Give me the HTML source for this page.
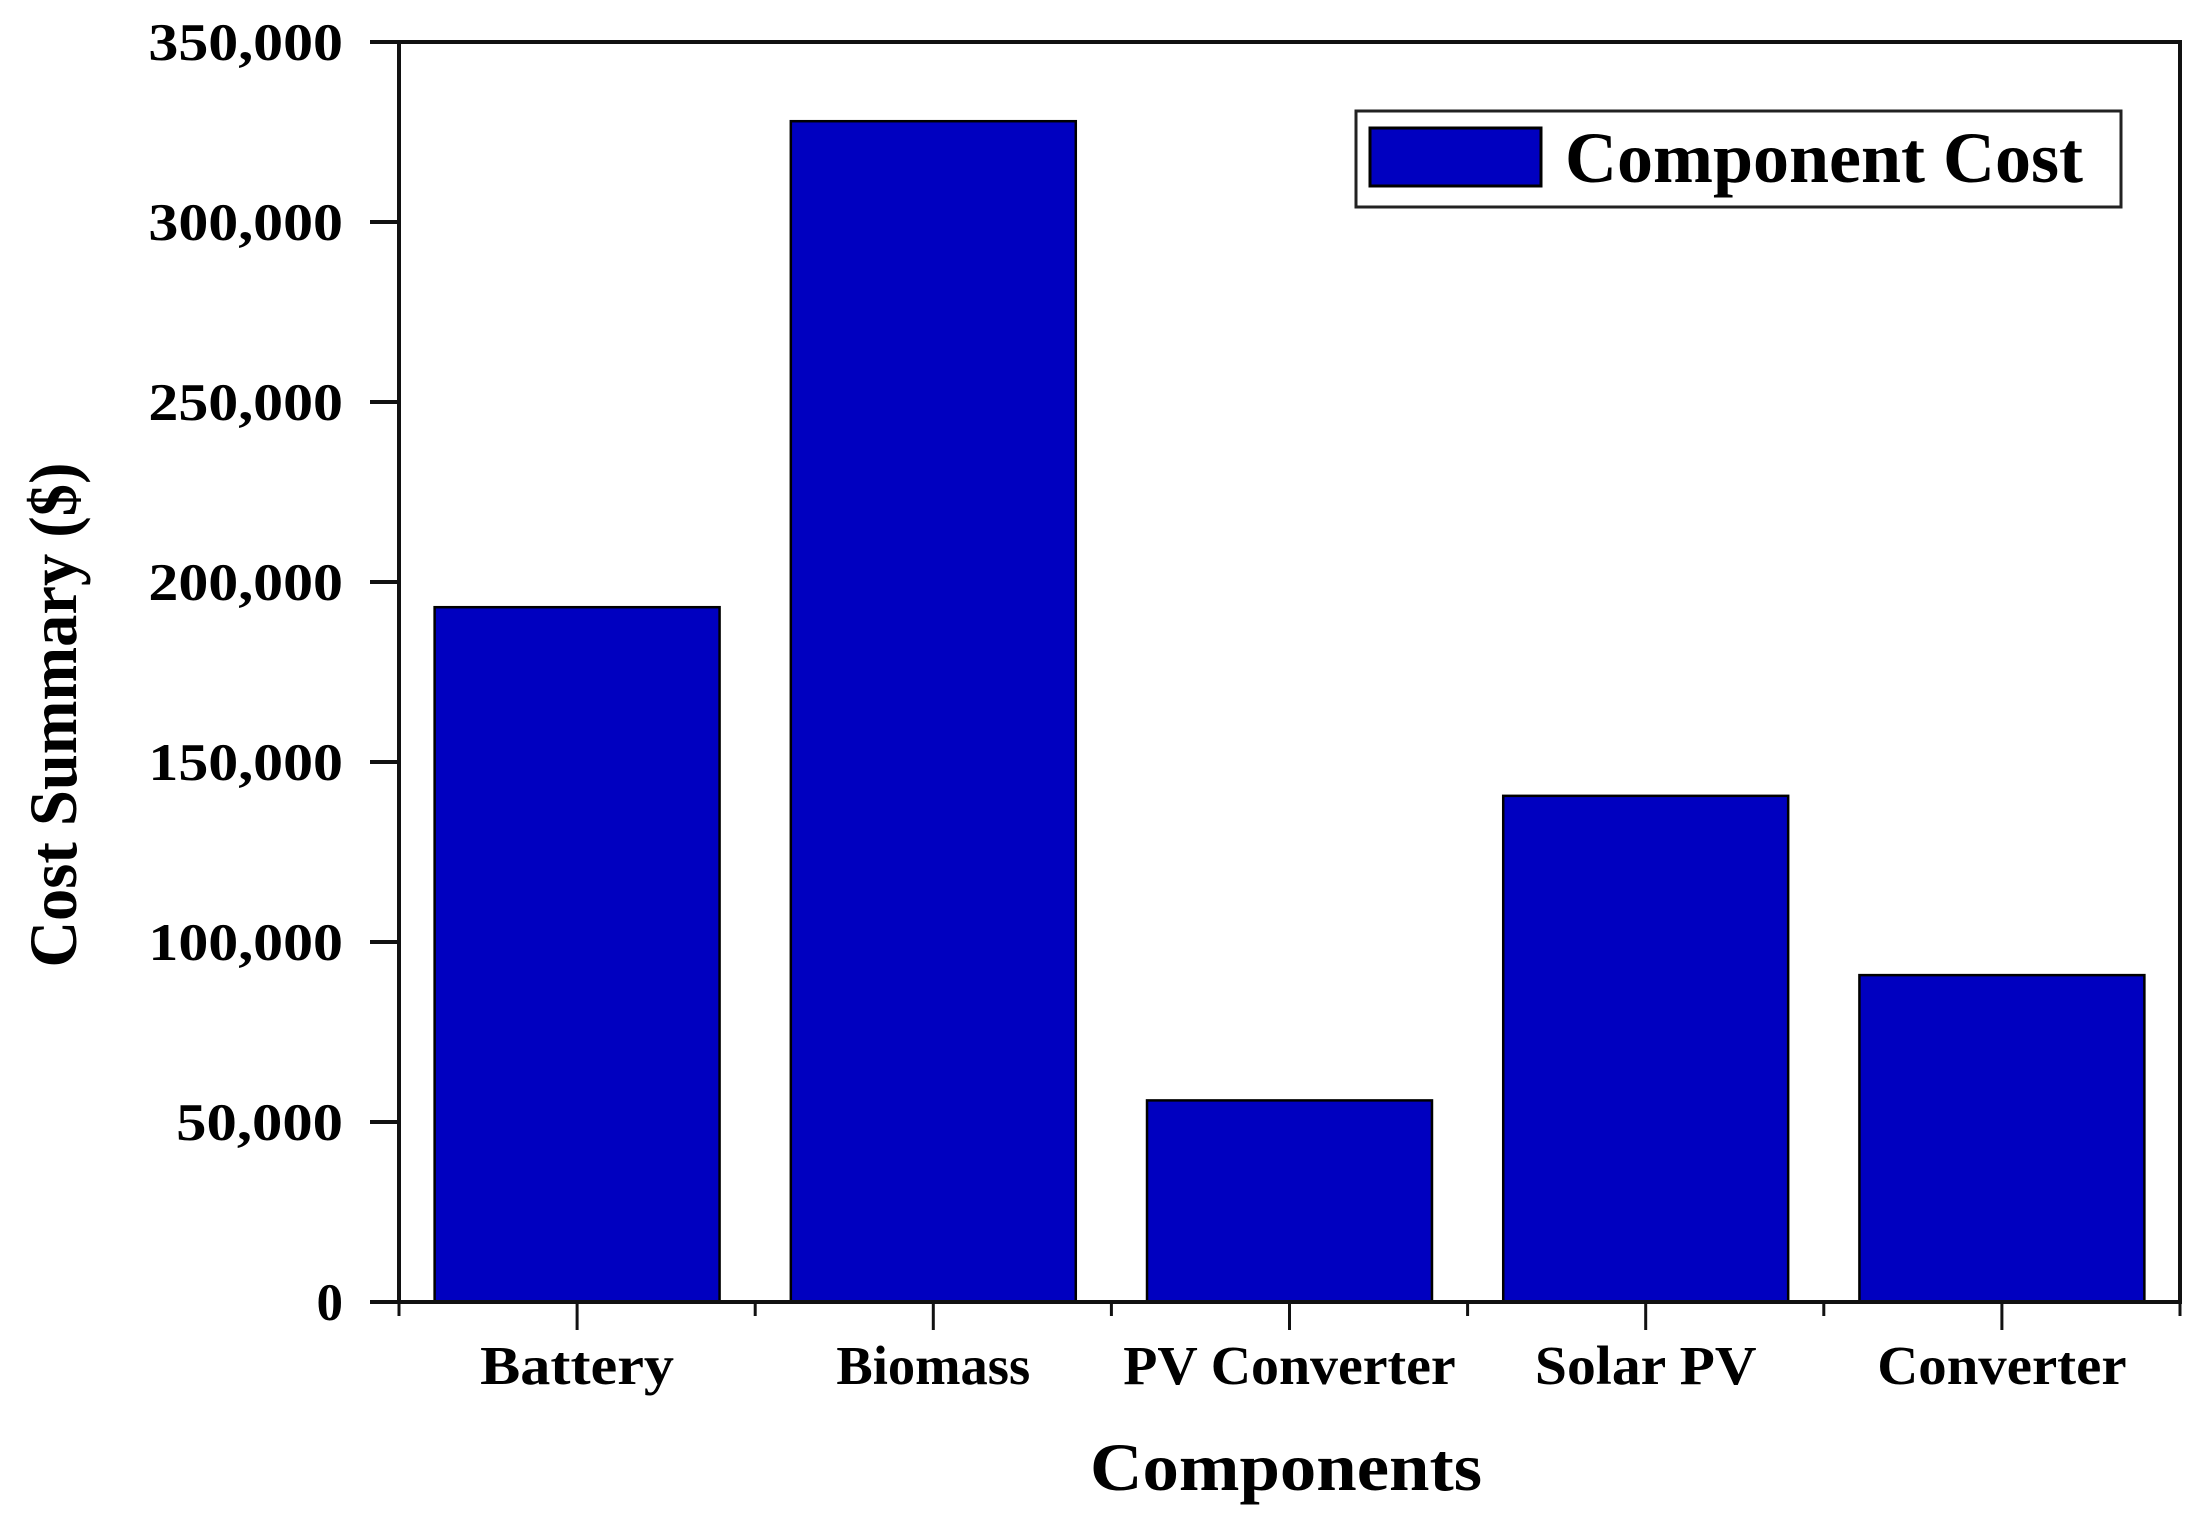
<!DOCTYPE html>
<html><head><meta charset="utf-8"><style>
html,body{margin:0;padding:0;background:#fff;}
svg{display:block;font-family:"Liberation Serif",serif;font-weight:bold;}
</style></head><body>
<svg id="chart" width="2197" height="1523" viewBox="0 0 2197 1523" xmlns="http://www.w3.org/2000/svg">
<g id="plot"></g>
</svg>
<script>
const categories = ["Battery","Biomass","PV Converter","Solar PV","Converter"];
const costValues = [193000, 328000, 56000, 140600, 90800];
const yTickValues = [0,50000,100000,150000,200000,250000,300000,350000];
const yTickLabels = ["0","50,000","100,000","150,000","200,000","250,000","300,000","350,000"];

const NS="http://www.w3.org/2000/svg";
const L=399, R=2180, T=42, B=1302, yMax=350000;
const band=(R-L)/categories.length;
const yS=v=>B-(v/yMax)*(B-T);
const xC=i=>L+band*(i+0.5);
const g=document.getElementById('plot');
function mk(tag,attrs,parent){const e=document.createElementNS(NS,tag);for(const k in attrs)e.setAttribute(k,attrs[k]);(parent||g).appendChild(e);return e;}

categories.forEach((c,i)=>{
  const w=band*0.8, y=yS(costValues[i]);
  const r=mk('rect',{x:xC(i)-w/2,y:y,width:w,height:B-y,fill:'#0000C0',stroke:'#000','stroke-width':2.5});
  
  
});

const fr=mk('rect',{x:L,y:T,width:R-L,height:B-T,fill:'none',stroke:'#111','stroke-width':4});



yTickValues.forEach((v,i)=>{
  const y=yS(v);
  const t=mk('line',{x1:L-29,x2:L,y1:y,y2:y,stroke:'#111','stroke-width':4});
  
  
  const lab=yTickLabels[i];
  const attrs={x:343,y:y+18,'text-anchor':'end','font-size':53,fill:'#000'};
  if(lab.length>1){attrs.textLength=lab.length*27.8;attrs.lengthAdjust='spacingAndGlyphs';}
  const tx=mk('text',attrs);tx.textContent=lab;
  
  
});

for(let i=0;i<=categories.length;i++){
  const x=L+band*i;
  const t=mk('line',{x1:x,x2:x,y1:B,y2:B+14,stroke:'#111','stroke-width':3});
  
  
}
categories.forEach((c,i)=>{
  const x=xC(i);
  const t=mk('line',{x1:x,x2:x,y1:B,y2:B+28,stroke:'#111','stroke-width':3});
  
  
  const tx=mk('text',{x:x,y:1384,'text-anchor':'middle','font-size':55,fill:'#000',textLength:c.length*27.7,lengthAdjust:'spacingAndGlyphs'});
  tx.textContent=c;
  
  
});

const xt=mk('text',{x:1286,y:1490,'text-anchor':'middle','font-size':68,fill:'#000',textLength:392,lengthAdjust:'spacingAndGlyphs'});
xt.textContent='Components';


const yt=mk('text',{x:0,y:0,'text-anchor':'middle','font-size':68,fill:'#000',textLength:505,lengthAdjust:'spacingAndGlyphs',transform:'translate(76,715) rotate(-90)'});
yt.textContent='Cost Summary ($)';



const lg=mk('g',{});


mk('rect',{x:1356,y:111,width:765,height:96,fill:'#fff',stroke:'#222','stroke-width':3},lg);
const sw=mk('rect',{x:1370,y:128,width:171,height:58,fill:'#0000C0',stroke:'#000','stroke-width':3},lg);


const lt=mk('text',{x:1565,y:182,'font-size':72,fill:'#000',textLength:518,lengthAdjust:'spacingAndGlyphs'},lg);
lt.textContent='Component Cost';


</script>
</body></html>
